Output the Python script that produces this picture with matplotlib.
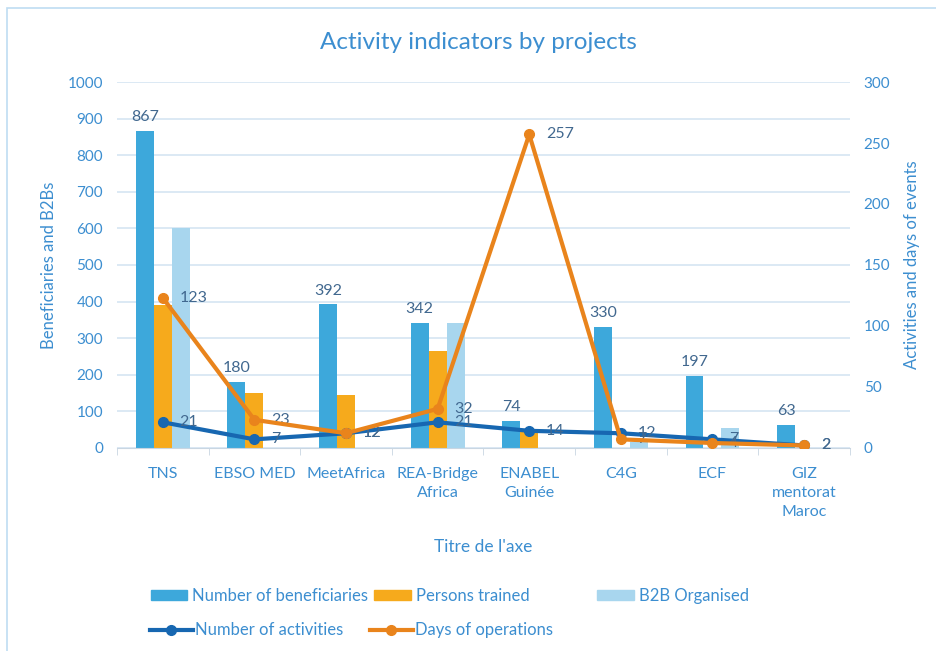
import matplotlib.pyplot as plt
import numpy as np
from matplotlib.patches import Rectangle
from matplotlib.lines import Line2D

plt.rcParams['font.family'] = ['Lato', 'DejaVu Sans']

# projects and indicator values
projects = ['TNS', 'EBSO MED', 'MeetAfrica', 'REA-Bridge\nAfrica', 'ENABEL\nGuinée',
            'C4G', 'ECF', 'GIZ\nmentorat\nMaroc']
beneficiaries = [867, 180, 392, 342, 74, 330, 197, 63]
trained = [390, 150, 145, 265, 45, 0, 0, 0]
b2b = [600, 0, 0, 340, 0, 15, 55, 0]
activities = [21, 7, 12, 21, 14, 12, 7, 2]
days = [123, 23, 12, 32, 257, 7, 4, 2]

c_ben = '#3DA8DB'
c_tr = '#F6AA1C'
c_b2b = '#A8D6EE'
c_act = '#1767B1'
c_days = '#E9841C'
c_txt = '#3C8ED0'
c_lab = '#41688F'
c_grid = '#D5E5F2'

fig = plt.figure(figsize=(9.36, 6.51), dpi=100)
fig.patches.append(Rectangle((0.007, -0.1), 1.1, 1.087, transform=fig.transFigure,
                             fill=False, edgecolor='#BFDDF2', lw=1.2))

ax = fig.add_axes([0.125, 0.312, 0.783, 0.562])
x = np.arange(len(projects))
w = 0.196

ax.bar(x - w, beneficiaries, w, color=c_ben, zorder=2)
ax.bar(x, trained, w, color=c_tr, zorder=2)
ax.bar(x + w, b2b, w, color=c_b2b, zorder=2)
for i, v in enumerate(beneficiaries):
    ax.annotate(str(v), (x[i] - w, v), xytext=(0, 5), textcoords='offset points',
                ha='center', va='bottom', color=c_lab, fontsize=11.5)

ax.set_ylim(0, 1000)
ax.set_yticks(range(0, 1001, 100))
ax.set_xlim(-0.5, len(projects) - 0.5)
ax.set_xticks(x)
ax.set_xticklabels(projects, color=c_txt, fontsize=11.5, linespacing=1.45)
ax.set_xticks(np.arange(-0.5, len(projects), 1), minor=True)
ax.tick_params(axis='x', which='major', length=0, pad=14)
ax.tick_params(axis='x', which='minor', length=5, color='#C9D6E2')
ax.tick_params(axis='y', length=0, labelcolor=c_txt, labelsize=11, pad=10)
ax.grid(axis='y', color=c_grid, lw=1.2, zorder=0)
for s in ['top', 'left', 'right']:
    ax.spines[s].set_visible(False)
ax.spines['bottom'].set_color('#C9D6E2')
ax.set_ylabel('Beneficiaries and B2Bs', color=c_txt, fontsize=12, labelpad=8)
ax.set_xlabel("Titre de l'axe", color=c_txt, fontsize=12.5, labelpad=14)

ax2 = ax.twinx()
ax2.plot(x, activities, color=c_act, lw=3, marker='o', ms=7, zorder=3)
ax2.plot(x, days, color=c_days, lw=3, marker='o', ms=7, zorder=4)
for i in range(len(projects)):
    ax2.annotate(str(days[i]), (x[i], days[i]), xytext=(12, 0), textcoords='offset points',
                 ha='left', va='center', color=c_lab, fontsize=11.5)
    ax2.annotate(str(activities[i]), (x[i], activities[i]), xytext=(12, 0), textcoords='offset points',
                 ha='left', va='center', color=c_lab, fontsize=11.5)
ax2.set_ylim(0, 300)
ax2.set_yticks(range(0, 301, 50))
ax2.tick_params(axis='y', length=0, labelcolor=c_txt, labelsize=11, pad=10)
for s in ['top', 'left', 'right', 'bottom']:
    ax2.spines[s].set_visible(False)
ax2.set_ylabel('Activities and days of events', color=c_txt, fontsize=12, labelpad=10)

fig.text(0.511, 0.934, 'Activity indicators by projects', ha='center', va='center',
         color=c_txt, fontsize=17.5)

# legend entries placed like the spreadsheet legend
entries = [
    (Rectangle((0, 0), 1, 1, color=c_ben), 'Number of beneficiaries', 0.161, 0.084, 0.3, 2.2),
    (Rectangle((0, 0), 1, 1, color=c_tr), 'Persons trained', 0.400, 0.084, 0.3, 2.2),
    (Rectangle((0, 0), 1, 1, color=c_b2b), 'B2B Organised', 0.638, 0.084, 0.3, 2.2),
    (Line2D([], [], color=c_act, lw=3, marker='o', ms=7), 'Number of activities', 0.160, 0.032, 0.1, 2.6),
    (Line2D([], [], color=c_days, lw=3, marker='o', ms=7), 'Days of operations', 0.395, 0.032, 0.1, 2.6),
]
for h, lab, lx, ly, pad, hl in entries:
    fig.legend([h], [lab], loc='center left', bbox_to_anchor=(lx, ly), frameon=False,
               fontsize=12, handlelength=hl, handleheight=0.55, handletextpad=pad,
               borderpad=0, borderaxespad=0, labelcolor=c_txt)

fig.savefig('out.png', dpi=100)
